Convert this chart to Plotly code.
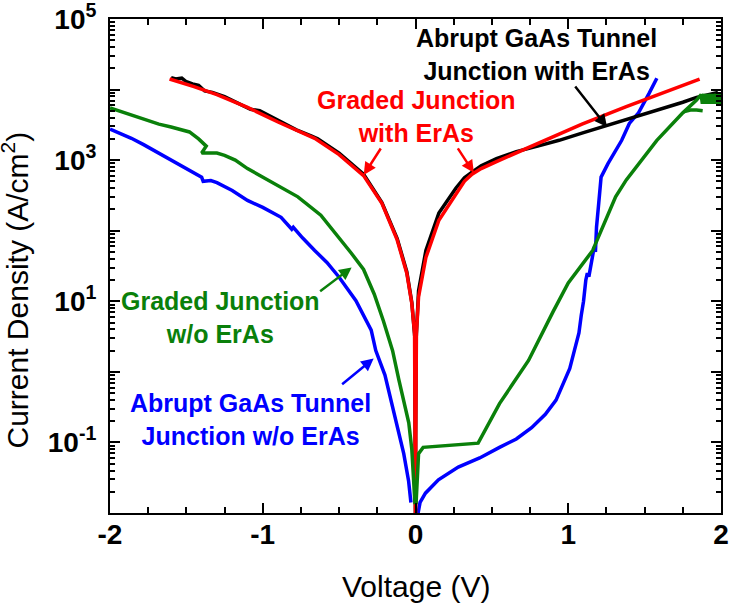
import plotly.graph_objects as go

# ---------------- data ----------------
# Abrupt GaAs tunnel junction with ErAs (black)
V_black = [-1.60, -1.57, -1.53, -1.50, -1.46, -1.42, -1.38, -1.33, -1.25, -1.15, -1.08, -1.02,
           -0.90, -0.78, -0.68, -0.64, -0.50, -0.34, -0.22, -0.12, -0.057, -0.024, -0.005,
           -0.001, 0.0, 0.001, 0.005, 0.02, 0.068, 0.153, 0.264, 0.32, 0.37, 0.43, 0.53, 0.66,
           0.80, 0.94, 1.10, 1.27, 1.45, 1.60, 1.75, 1.84, 1.92, 1.98]
J_black = [1.48e4, 1.41e4, 1.45e4, 1.29e4, 1.20e4, 1.15e4, 9.55e3, 9.12e3, 7.94e3, 6.31e3,
           5.25e3, 5.01e3, 3.63e3, 2.69e3, 2.19e3, 2.00e3, 1.26e3, 631, 251, 77.6, 26.3, 9.55,
           3.16, 0.126, 5e-3, 0.126, 3.16, 14.1, 52.5, 178, 400, 562, 676, 832, 1.05e3, 1.32e3,
           1.58e3, 1.91e3, 2.45e3, 3.16e3, 4.17e3, 5.13e3, 6.61e3, 7.76e3, 8.51e3, 9.12e3]

# Graded junction with ErAs (red)
V_red = [-1.61, -1.52, -1.45, -1.30, -1.10, -0.90, -0.66, -0.50, -0.34, -0.22, -0.12, -0.057,
         -0.024, -0.006, -0.002, 0.0, 0.002, 0.006, 0.02, 0.068, 0.153, 0.264, 0.32, 0.37,
         0.43, 0.53, 0.66, 0.80, 0.94, 1.09, 1.38, 1.53, 1.70, 1.86]
J_red = [1.41e4, 1.23e4, 1.10e4, 8.5e3, 5.6e3, 3.47e3, 2.04e3, 1.20e3, 603, 245, 74, 25,
         9.3, 3.5, 0.16, 5e-3, 0.16, 3.5, 11.5, 41.7, 141, 339, 501, 631, 759, 955, 1.26e3,
         1.74e3, 2.34e3, 3.24e3, 5.75e3, 7.59e3, 1.02e4, 1.41e4]

# Graded junction without ErAs (green)
V_green = [-2.00, -1.90, -1.81, -1.68, -1.60, -1.55, -1.48, -1.42, -1.37, -1.40, -1.30, -1.25,
           -1.18, -1.10, -0.95, -0.77, -0.62, -0.50, -0.42, -0.34, -0.27, -0.21, -0.15, -0.11,
           -0.07, -0.044, -0.024, -0.011, -0.004, 0.004, 0.012, 0.02, 0.05, 0.28, 0.41, 0.55,
           0.74, 0.90, 1.00, 1.16, 1.31, 1.38, 1.58, 1.75, 1.84, 1.87,
           1.878, 1.886, 1.894, 1.902, 1.910, 1.918, 1.926, 1.934, 1.942, 1.950, 1.958,
           1.966, 1.974, 1.982, 1.990, 1.998,
           None, 1.76, 1.80, 1.84, 1.88]
J_green = [5.50e3, 4.68e3, 4.07e3, 3.24e3, 2.95e3, 2.75e3, 2.51e3, 2.00e3, 1.58e3, 1.26e3,
           1.26e3, 1.17e3, 1.00e3, 759, 501, 302, 166, 79.4, 47.9, 28.2, 12.6, 5.25, 2.0,
           0.79, 0.355, 0.19, 0.079, 0.0316, 0.0141, 0.0141, 0.0398, 0.0692, 0.0851,
           0.0933, 0.0977, 0.355, 1.45, 7.08, 18.2, 52.5, 302, 525, 1.91e3, 4.68e3, 7.08e3,
           8.51e3,
           6.3e3, 8.7e3, 6.3e3, 8.7e3, 6.3e3, 8.7e3, 6.3e3, 8.7e3, 6.3e3, 8.7e3, 6.3e3,
           8.7e3, 6.3e3, 8.7e3, 6.3e3, 8.7e3,
           None, 4.9e3, 5.13e3, 5.13e3, 5.01e3]

# Abrupt GaAs tunnel junction without ErAs (blue)
V_blue = [-2.00, -1.93, -1.86, -1.78, -1.68, -1.60, -1.51, -1.45, -1.40, -1.39, -1.34, -1.30,
          -1.20, -1.10, -1.00, -0.88, -0.84, -0.81, -0.80, -0.74, -0.66, -0.58, -0.50, -0.39,
          -0.29, -0.26, -0.20, -0.155, -0.11, -0.077, -0.045, -0.03,
          None, 0.008, 0.03, 0.065, 0.15, 0.28, 0.42, 0.55, 0.66, 0.76, 0.85, 0.92, 0.97,
          1.01, 1.04, 1.07, 1.085, 1.10, 1.115, 1.125, 1.135, 1.15, 1.17, 1.178, 1.185,
          1.20, 1.215, 1.26, 1.31, 1.35, 1.40, 1.46, 1.53, 1.58]
J_blue = [2.75e3, 2.40e3, 2.04e3, 1.66e3, 1.26e3, 1.02e3, 794, 676, 575, 501, 513, 479,
          372, 269, 214, 155, 126, 105, 112, 79.4, 52.5, 35.5, 21.9, 10.2,
          3.89, 2.0, 0.9, 0.355, 0.15, 0.0692, 0.0282, 0.0141,
          None, 7.9e-3, 0.0141, 0.0191, 0.0295, 0.0447, 0.0603, 0.0851, 0.112, 0.162, 0.251,
          0.398, 0.708, 1.12, 2.0, 3.55, 6.31, 10.0, 20.0, 25.1, 22.4, 35.5, 58.9, 50.1,
          112, 251, 575, 891, 1.38e3, 1.91e3, 3.31e3, 4.68e3, 8.91e3, 1.45e4]

# axis ticks
x_ticks = [-2, -1, 0, 1, 2]
y_label_ticks = [1e-1, 1e1, 1e3, 1e5]
y_label_text = ["10<sup>-1</sup>", "10<sup>1</sup>", "10<sup>3</sup>", "10<sup>5</sup>"]
y_plain_ticks = [1e-2, 1e0, 1e2, 1e4]
y_minor = [k * 10.0 ** n for n in range(-2, 5) for k in range(2, 10)]

FONT = "Liberation Sans, Arial, sans-serif"
RED, BLACK, GREEN, BLUE = "#ff0000", "#000000", "#0a800a", "#0000ff"

fig = go.Figure()
fig.add_trace(go.Scatter(x=V_blue, y=J_blue, mode="lines", line=dict(color=BLUE, width=3.5)))
fig.add_trace(go.Scatter(x=V_black, y=J_black, mode="lines", line=dict(color=BLACK, width=3.5)))
fig.add_trace(go.Scatter(x=V_red, y=J_red, mode="lines", line=dict(color=RED, width=3.5)))
fig.add_trace(go.Scatter(x=V_green, y=J_green, mode="lines", line=dict(color=GREEN, width=3.5)))

axis_common = dict(showline=True, linecolor="black", linewidth=2, mirror="ticks",
                   ticks="inside", ticklen=10, tickwidth=2, tickcolor="black",
                   showgrid=False, zeroline=False, automargin=False,
                   ticklabeloverflow="allow",
                   tickfont=dict(family=FONT, size=28, color="black", weight="bold"))
y_range = [-2.00001, 5.00001]

fig.update_layout(
    xaxis=dict(range=[-2, 2], tickmode="array", tickvals=x_ticks,
               ticktext=[str(v) for v in x_ticks], ticklabelstandoff=-5,
               minor=dict(ticks="inside", dtick=0.25, tick0=0, ticklen=6, tickwidth=2,
                          tickcolor="black"),
               **axis_common),
    yaxis=dict(type="log", range=y_range, tickmode="array", tickvals=y_label_ticks,
               ticktext=y_label_text, ticklabelstandoff=6,
               minor=dict(ticks="inside", tickmode="array", tickvals=y_minor, ticklen=5,
                          tickwidth=1.5, tickcolor="black"),
               **axis_common),
    yaxis2=dict(type="log", range=y_range, overlaying="y", anchor="x", side="left",
                tickmode="array", tickvals=y_plain_ticks, showticklabels=False,
                showline=True, linecolor="black", linewidth=2, mirror="ticks",
                ticks="inside", ticklen=10, tickwidth=2, tickcolor="black",
                showgrid=False, zeroline=False, automargin=False),
)
# invisible helper trace so the second y axis (unlabelled decade ticks) is drawn
fig.add_trace(go.Scatter(x=[None], y=[None], yaxis="y2", mode="lines", showlegend=False))

ann_font = lambda c: dict(family=FONT, size=25, color=c, weight="bold")
annotations = [
    dict(x=0.79, y=4.50, text="Abrupt GaAs Tunnel<br>Junction with ErAs", font=ann_font(BLACK)),
    dict(x=0.008, y=3.62, text="Graded Junction<br>with ErAs", font=ann_font(RED)),
    dict(x=-1.276, y=0.77, text="Graded Junction<br>w/o ErAs", font=ann_font(GREEN)),
    dict(x=-1.08, y=-0.67, text="Abrupt GaAs Tunnel<br>Junction w/o ErAs", font=ann_font(BLUE)),
]
for a in annotations:
    fig.add_annotation(xref="x", yref="y", showarrow=False, xanchor="center", yanchor="middle", **a)

arrows = [
    dict(x=1.254, y=3.47, ax=-33, ay=-42, arrowcolor=BLACK),
    dict(x=-0.339, y=2.79, ax=18, ay=-28, arrowcolor=RED),
    dict(x=0.382, y=2.82, ax=-17, ay=-26, arrowcolor=RED),
    dict(x=-0.418, y=1.48, ax=-33, ay=25, arrowcolor=GREEN),
    dict(x=-0.274, y=0.19, ax=-33, ay=27, arrowcolor=BLUE),
]
for a in arrows:
    fig.add_annotation(xref="x", yref="y", text="", showarrow=True, arrowhead=2, arrowsize=1,
                       arrowwidth=2.5, standoff=0, **a)

fig.add_annotation(xref="paper", yref="paper", x=-0.155, y=0.451, textangle=-90,
                   text="Current Density (A/cm<sup>2</sup>)", showarrow=False,
                   xanchor="center", yanchor="middle",
                   font=dict(family=FONT, size=30, color="black"))
fig.add_annotation(xref="paper", yref="paper", x=0.5, y=-0.148, text="Voltage (V)",
                   showarrow=False, xanchor="center", yanchor="middle",
                   font=dict(family=FONT, size=30, color="black"))

fig.update_layout(width=730, height=603, margin=dict(l=110, r=9, t=19, b=90),
                  plot_bgcolor="white", paper_bgcolor="white", showlegend=False,
                  hovermode=False)

# remove the default 8px page margin so the 730x603 figure fills the window exactly
fig.write_html("out.html", config={"displayModeBar": False},
               post_script="document.body.style.margin='0px';")
